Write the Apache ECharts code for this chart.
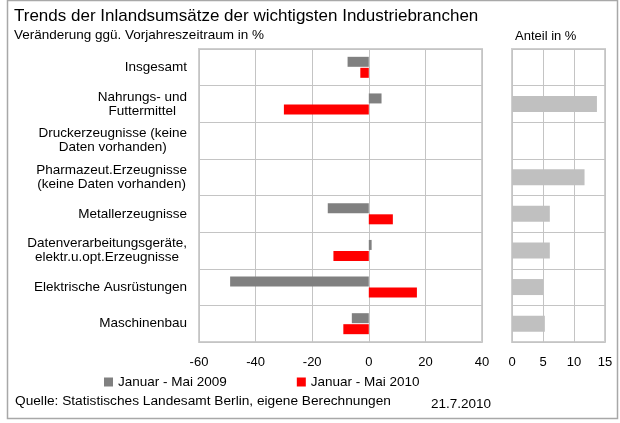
<!DOCTYPE html>
<html>
<head>
<meta charset="utf-8">
<script src="https://cdn.jsdelivr.net/npm/echarts@6/dist/echarts.min.js"></script>
<style>
  html, body { margin: 0; padding: 0; background: #fff; }
  #main { width: 620px; height: 423px; }
</style>
</head>
<body>
<div id="main"></div>
<script>
// Branchen (von oben nach unten)
var categories = [
  'Insgesamt',
  'Nahrungs- und\nFuttermittel',
  'Druckerzeugnisse (keine\nDaten vorhanden)',
  'Pharmazeut.Erzeugnisse\n(keine Daten vorhanden)',
  'Metallerzeugnisse',
  'Datenverarbeitungsgeräte,\nelektr.u.opt.Erzeugnisse',
  'Elektrische Ausrüstungen',
  'Maschinenbau'
];
// Veränderung ggü. Vorjahreszeitraum in %
var values2009 = [-7.5, 4.5, null, null, -14.5, 1, -49, -6];
var values2010 = [-3, -30, null, null, 8.5, -12.5, 17, -9];
// Anteil in %
var anteil = [null, 13.7, null, 11.7, 6.1, 6.1, 5, 5.3];

var leftTicks = { min: -60, max: 40, interval: 20 };
var rightTicks = { min: 0, max: 15, interval: 5 };

var fontName = 'Liberation Sans, Arial, sans-serif';
var gridColor = '#c4c4c4';

var myChart = echarts.init(document.getElementById('main'));

var option = {
  backgroundColor: '#fff',
  textStyle: { fontFamily: fontName, color: '#000' },
  title: [
    {
      text: 'Trends der Inlandsumsätze der wichtigsten Industriebranchen',
      left: 14, top: 8, padding: 0,
      textStyle: { fontSize: 17, fontWeight: 'normal', color: '#000', fontFamily: fontName }
    },
    {
      text: 'Veränderung ggü. Vorjahreszeitraum in %',
      left: 14, top: 28, padding: 0,
      textStyle: { fontSize: 13.5, fontWeight: 'normal', color: '#000', fontFamily: fontName }
    },
    {
      text: 'Anteil in %',
      left: 515, top: 30, padding: 0,
      textStyle: { fontSize: 13, fontWeight: 'normal', color: '#000', fontFamily: fontName }
    },
    {
      text: 'Quelle: Statistisches Landesamt Berlin, eigene Berechnungen',
      left: 15, top: 394, padding: 0,
      textStyle: { fontSize: 13.7, fontWeight: 'normal', color: '#000', fontFamily: fontName }
    },
    {
      text: '21.7.2010',
      left: 431, top: 397, padding: 0,
      textStyle: { fontSize: 13.5, fontWeight: 'normal', color: '#000', fontFamily: fontName }
    }
  ],
  legend: {
    data: ['Januar - Mai 2009', 'Januar - Mai 2010'],
    left: 104, top: 375, padding: 0,
    icon: 'rect', itemWidth: 9, itemHeight: 9, itemGap: 70,
    textStyle: { fontSize: 13.5, color: '#000', fontFamily: fontName }
  },
  grid: [
    { left: 199, right: 138, top: 49, bottom: 81, show: true, borderColor: '#cfcfcf', borderWidth: 2 },
    { left: 512, right: 15, top: 49, bottom: 81, show: true, borderColor: '#cfcfcf', borderWidth: 2 }
  ],
  xAxis: [
    {
      gridIndex: 0, type: 'value',
      min: leftTicks.min, max: leftTicks.max, interval: leftTicks.interval,
      axisLine: { show: false }, axisTick: { show: false },
      axisLabel: { margin: 14, fontSize: 13, color: '#000', showMaxLabel: true, showMinLabel: true },
      splitLine: { show: true, lineStyle: { color: gridColor, width: 1 } }
    },
    {
      gridIndex: 1, type: 'value',
      min: rightTicks.min, max: rightTicks.max, interval: rightTicks.interval,
      axisLine: { show: false }, axisTick: { show: false },
      axisLabel: { margin: 14, fontSize: 13, color: '#000', showMaxLabel: true, showMinLabel: true },
      splitLine: { show: true, lineStyle: { color: gridColor, width: 1 } }
    }
  ],
  yAxis: [
    {
      gridIndex: 0, type: 'category', data: categories, inverse: true,
      axisLine: { show: false }, axisTick: { show: false },
      splitLine: { show: true, lineStyle: { color: gridColor, width: 1 } },
      axisLabel: {
        margin: 12, fontSize: 13.5, color: '#000', interval: 0, lineHeight: 14,
        formatter: function (val) {
          return val.split('\n').map(function (l) { return '{c|' + l + '}'; }).join('\n');
        },
        rich: { c: { align: 'center', fontSize: 13.5, lineHeight: 14, fontFamily: fontName, color: '#000' } }
      }
    },
    {
      gridIndex: 1, type: 'category', data: categories, inverse: true,
      axisLine: { show: false }, axisTick: { show: false }, axisLabel: { show: false },
      splitLine: { show: true, lineStyle: { color: gridColor, width: 1 } }
    }
  ],
  series: [
    {
      name: 'Januar - Mai 2009', type: 'bar', xAxisIndex: 0, yAxisIndex: 0,
      data: values2009, barWidth: 10, barGap: '10%',
      itemStyle: { color: '#808080' }
    },
    {
      name: 'Januar - Mai 2010', type: 'bar', xAxisIndex: 0, yAxisIndex: 0,
      data: values2010, barWidth: 10, barGap: '10%',
      itemStyle: { color: '#ff0000' }
    },
    {
      name: 'Anteil', type: 'bar', xAxisIndex: 1, yAxisIndex: 1,
      data: anteil, barWidth: 16,
      itemStyle: { color: '#c0c0c0' }
    }
  ],
  graphic: [
    {
      type: 'rect', silent: true, z: -1,
      shape: { x: 7.5, y: 0.5, width: 610, height: 418 },
      style: { fill: 'none', stroke: '#a8a8a8', lineWidth: 1.5 }
    }
  ]
};

myChart.setOption(option);
</script>
</body>
</html>
